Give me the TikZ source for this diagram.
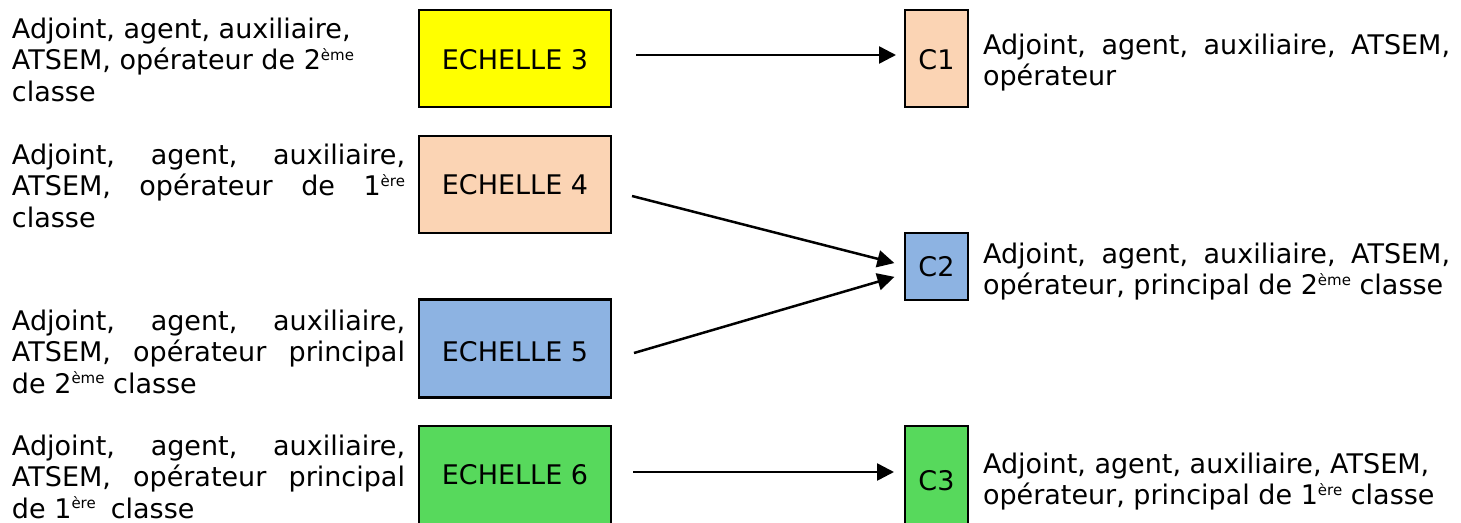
\documentclass[tikz,border=0pt]{standalone}
\usepackage{fontspec}
\setmainfont{DejaVu Sans}
\usetikzlibrary{arrows.meta,calc}
\definecolor{yellowc}{HTML}{FFFF00}
\definecolor{peachc}{HTML}{FBD4B4}
\definecolor{bluec}{HTML}{8DB3E2}
\definecolor{greenc}{HTML}{57D95C}
\newcommand\expo[1]{\smash{\raisebox{9.5pt}{\fontsize{15}{15}\selectfont #1}}}
\newcommand\jl[1]{\makebox[393pt][s]{#1}}
\newcommand\jr[1]{\makebox[467pt][s]{#1}}
\begin{document}
\begin{tikzpicture}[x=1pt,y=-1pt,
  font=\fontsize{27}{31.7}\selectfont,
  box/.style={draw, line width=2.6pt, inner sep=0pt, outer sep=0pt, text height=19.7pt, text depth=0pt},
  txt/.style={anchor=base west, inner sep=0pt, outer sep=0pt},
  arr/.style={line width=2.5pt, -{Triangle[length=17pt,width=17pt]}}]
\useasboundingbox (0,0) rectangle (1461,522);
\clip (0,0) rectangle (1461,522);

% ECHELLE boxes
\node[box, fill=yellowc, minimum width=192pt, minimum height=97pt] (e3) at (515,58.5) {\raisebox{-1.5pt}{ECHELLE 3}};
\node[box, fill=peachc, minimum width=192pt, minimum height=97pt] (e4) at (515,184.5) {ECHELLE 4};
\node[box, fill=bluec, minimum width=192pt, minimum height=98pt] (e5) at (515,348.5) {\raisebox{-3pt}{ECHELLE 5}};
\node[box, fill=greenc, minimum width=192pt, minimum height=110pt] (e6) at (515,481) {\raisebox{6pt}{ECHELLE 6}};

% C boxes
\node[box, fill=peachc, minimum width=63pt, minimum height=97pt] (c1) at (936.5,58.5) {\raisebox{-1.5pt}{C1}};
\node[box, fill=bluec, minimum width=63pt, minimum height=67pt] (c2) at (936.5,266.5) {C2};
\node[box, fill=greenc, minimum width=63pt, minimum height=110pt] (c3) at (936.5,481) {C3};

% left texts
\node[txt] (t3) at (12,38) {\begin{tabular}[t]{@{}l@{}}Adjoint, agent, auxiliaire,\\ ATSEM, opérateur de 2\expo{ème}\\ classe\end{tabular}};
\node[txt] (t4) at (12,164) {\begin{tabular}[t]{@{}l@{}}\jl{Adjoint, agent, auxiliaire,}\\ \jl{ATSEM, opérateur de 1\expo{ère}}\\ classe\end{tabular}};
\node[txt] (t5) at (12,330) {\begin{tabular}[t]{@{}l@{}}\jl{Adjoint, agent, auxiliaire,}\\ \jl{ATSEM, opérateur principal}\\ de 2\expo{ème} classe\end{tabular}};
\node[txt] (t6) at (12,455) {\begin{tabular}[t]{@{}l@{}}\jl{Adjoint, agent, auxiliaire,}\\ \jl{ATSEM, opérateur principal}\\ de 1\expo{ère}\hspace{15pt}classe\end{tabular}};

% right texts
\node[txt] (r1) at (983,54) {\begin{tabular}[t]{@{}l@{}}\jr{Adjoint, agent, auxiliaire, ATSEM,}\\ opérateur\end{tabular}};
\node[txt] (r2) at (983,263) {\begin{tabular}[t]{@{}l@{}}\jr{Adjoint, agent, auxiliaire, ATSEM,}\\ opérateur, principal de 2\expo{ème} classe\end{tabular}};
\node[txt] (r3) at (983,473) {\begin{tabular}[t]{@{}l@{}}Adjoint, agent, auxiliaire, ATSEM,\\ opérateur, principal de 1\expo{ère} classe\end{tabular}};

% arrows
\coordinate (s3) at (636,55);
\coordinate (s4) at (632,196);
\coordinate (s5) at (634,353);
\coordinate (s6) at (633,472);
\draw[arr, shorten >=9pt] (s3) -- (s3 -| c1.west);
\draw[arr, shorten >=11pt] (s4) -- ($(c2.west)+(0,-0.7)$);
\draw[arr, shorten >=11pt] (s5) -- ($(c2.west)+(0,7.3)$);
\draw[arr, shorten >=11pt] (s6) -- (s6 -| c3.west);
\end{tikzpicture}
\end{document}
